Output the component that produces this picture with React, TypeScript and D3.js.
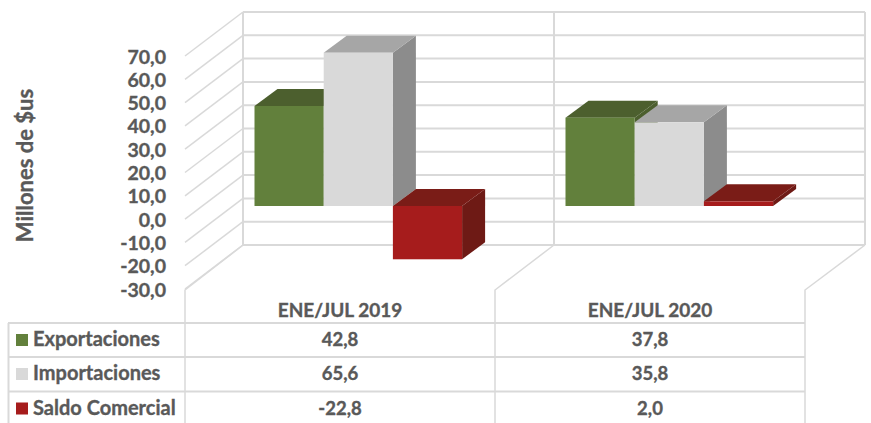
import React from "react";
import * as d3 from "d3";

const categories = ["ENE/JUL 2019", "ENE/JUL 2020"];
const seriesNames = ["Exportaciones", "Importaciones", "Saldo Comercial"];
const exportaciones = [42.8, 37.8];
const importaciones = [65.6, 35.8];
const saldo = [-22.8, 2.0];
const seriesValues = [exportaciones, importaciones, saldo];
const valueLabels = [["42,8", "37,8"], ["65,6", "35,8"], ["-22,8", "2,0"]];
const ticks = [70, 60, 50, 40, 30, 20, 10, 0, -10, -20, -30];

const frontColors = ["#62803c", "#d9d9d9", "#a61c1c"];
const topColors = ["#4c5f2e", "#a6a6a6", "#7a1c17"];
const sideColors = ["#4c5f2e", "#8c8c8c", "#6e1a15"];

const W = 871, H = 423;
const GRID = "#d9d9d9";
const TEXT = "#595959";
const FONT = "Lato, Carlito, Calibri, sans-serif";

// back wall value scale, and bar-plane value scale
const yBack = d3.scaleLinear().domain([-30, 70]).range([245, 12]);
const yBar = d3.scaleLinear().domain([0, 70]).range([206, 206 - 70 * 2.337]);
const wallX = d3.scalePoint<number>().domain([0, 1, 2]).range([243, 865]);
const floorX = d3.scalePoint<number>().domain([0, 1, 2]).range([185, 805]);
const wallDX = -58, wallDY = 44;
const depthX = 23, depthY = -17;
const x0 = d3.scaleBand().domain(categories).range([254.5, 876.5]);
const x1 = d3.scaleBand().domain(seriesNames).range([0, 207.6]);
const tableRows = [323, 357, 391.5];
const line = d3.line();
const heavy = { stroke: TEXT, strokeWidth: 0.35 };

function poly(points: [number, number][]) {
  return line(points) + "Z";
}

export default function App() {
  return (
    <svg width={W} height={H} viewBox={`0 0 ${W} ${H}`} style={{ position: "absolute", left: 0, top: 0, background: "#fff" }} fontFamily={FONT} fontWeight={700}>
      {/* back wall */}
      {ticks.map((t) => (
        <g key={t}>
          <line x1={243} x2={865} y1={yBack(t)} y2={yBack(t)} stroke={GRID} strokeWidth={2} />
          <line x1={243} x2={243 + wallDX} y1={yBack(t)} y2={yBack(t) + wallDY} stroke={GRID} strokeWidth={1.5} />
        </g>
      ))}
      {[0, 1, 2].map((i) => (
        <g key={i}>
          <line x1={wallX(i)} x2={wallX(i)} y1={12} y2={245} stroke={GRID} strokeWidth={2} />
          <path d={line([[wallX(i)!, 245], [floorX(i)!, 290], [floorX(i)!, H]])!} fill="none" stroke={GRID} strokeWidth={1.5} />
        </g>
      ))}
      {/* bars */}
      {categories.map((c, ci) =>
        seriesNames.map((s, si) => {
          const v = seriesValues[si][ci];
          const xa = x0(c)! + x1(s)!;
          const xb = xa + x1.bandwidth();
          const yT = Math.min(yBar(v), yBar(0));
          const yB = Math.max(yBar(v), yBar(0));
          return (
            <g key={c + s}>
              <path d={poly([[xb, yT], [xb + depthX, yT + depthY], [xb + depthX, yB + depthY], [xb, yB]])} fill={sideColors[si]} />
              <path d={poly([[xa, yT], [xa + depthX, yT + depthY], [xb + depthX, yT + depthY], [xb, yT]])} fill={topColors[si]} />
              <rect x={xa} y={yT} width={xb - xa} height={yB - yT} fill={frontColors[si]} />
            </g>
          );
        })
      )}
      {/* y axis */}
      {ticks.map((t) => (
        <text key={t} x={166} y={yBack(t) + wallDY + 7.5} textAnchor="end" fontSize={19.5} fill={TEXT} {...heavy}>
          {d3.format(".1f")(t).replace(".", ",").replace("\u2212", "-")}
        </text>
      ))}
      <text transform="translate(33,165.5) rotate(-90)" textAnchor="middle" fontSize={22} fill={TEXT} {...heavy}>Millones de $us</text>
      {/* data table */}
      {tableRows.map((y) => (
        <line key={y} x1={8} x2={805} y1={y} y2={y} stroke={GRID} strokeWidth={2} />
      ))}
      <line x1={8.5} x2={8.5} y1={323} y2={H} stroke={GRID} strokeWidth={2} />
      {categories.map((c, ci) => (
        <text key={c} x={(floorX(ci)! + floorX(ci + 1)!) / 2} y={316.5} textAnchor="middle" fontSize={19} fill={TEXT} {...heavy}>{c}</text>
      ))}
      {seriesNames.map((s, si) => (
        <g key={s}>
          <rect x={16} y={tableRows[si] + 11} width={12} height={12} fill={frontColors[si]} />
          <text x={33} y={tableRows[si] + 23} fontSize={20} fill={TEXT} {...heavy}>{s}</text>
          {categories.map((c, ci) => (
            <text key={c} x={(floorX(ci)! + floorX(ci + 1)!) / 2} y={tableRows[si] + 23} textAnchor="middle" fontSize={18.5} fill={TEXT} {...heavy}>
              {valueLabels[si][ci]}
            </text>
          ))}
        </g>
      ))}
    </svg>
  );
}
